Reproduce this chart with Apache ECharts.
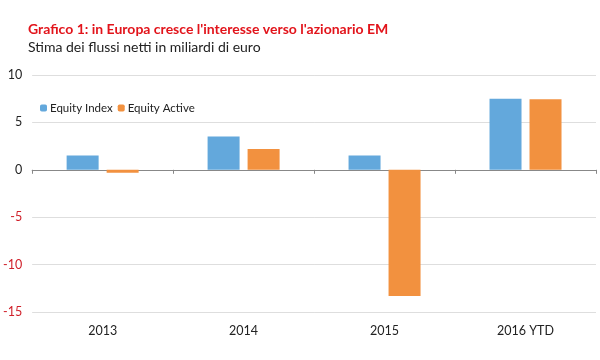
<!DOCTYPE html>
<html><head><meta charset="utf-8">
<script src="https://cdn.jsdelivr.net/npm/echarts@6/dist/echarts.min.js"></script>
<style>html,body{margin:0;padding:0;background:#fff}#c{width:600px;height:360px}</style>
</head><body><div id="c"></div>
<script>
const categories = ['2013', '2014', '2015', '2016 YTD'];
const equityIndex = [1.5, 3.5, 1.5, 7.5];
const equityActive = [-0.3, 2.2, -13.3, 7.45];
const yTicks = [-15, -10, -5, 0, 5, 10];
const titleText = "Grafico 1: in Europa cresce l'interesse verso l'azionario EM";
const subtitleText = 'Stima dei flussi netti in miliardi di euro';

const chart = echarts.init(document.getElementById('c'));
const font = 'Lato';
chart.setOption({
  animation: false,
  textStyle: {fontFamily: font},
  title: {
    text: titleText, subtext: subtitleText, left: 23, top: 17, itemGap: 4,
    textStyle: {color: '#E2141B', fontWeight: 'bold', fontSize: 14, fontFamily: font},
    subtextStyle: {color: '#222', fontSize: 14, fontFamily: font}
  },
  legend: {
    left: 35, top: 97, itemWidth: 7, itemHeight: 7, itemGap: 5,
    textStyle: {fontSize: 11.5, color: '#222', fontFamily: font, padding: [0, 0, 0, -2]},
    data: ['Equity Index', 'Equity Active']
  },
  grid: {left: 28, right: 4, top: 75, bottom: 48},
  xAxis: [{
    type: 'category', data: categories, position: 'bottom',
    axisLine: {show: false, onZero: false}, axisTick: {show: false},
    axisLabel: {fontSize: 12.5, color: '#222', margin: 12}
  }, {
    type: 'category', data: categories, position: 'bottom',
    axisLine: {show: true, onZero: true, lineStyle: {color: '#888', width: 1}},
    axisTick: {show: true, length: 4, lineStyle: {color: '#888'}},
    axisLabel: {show: false}
  }],
  yAxis: {
    type: 'value', min: -15, max: 10, interval: 5,
    axisLine: {show: false}, axisTick: {show: false},
    splitLine: {lineStyle: {color: '#dedede', width: 1}},
    axisLabel: {
      fontSize: 12.5, margin: 10,
      color: v => (v < 0 ? '#D0202A' : '#222')
    }
  },
  series: [{
    name: 'Equity Index', type: 'bar', data: equityIndex, xAxisIndex: 0,
    barWidth: 32, barGap: '25%', itemStyle: {color: '#63A8DC'}
  }, {
    name: 'Equity Active', type: 'bar', data: equityActive, xAxisIndex: 0,
    barWidth: 32, barGap: '25%', itemStyle: {color: '#F2913F'}
  }]
});
</script></body></html>
